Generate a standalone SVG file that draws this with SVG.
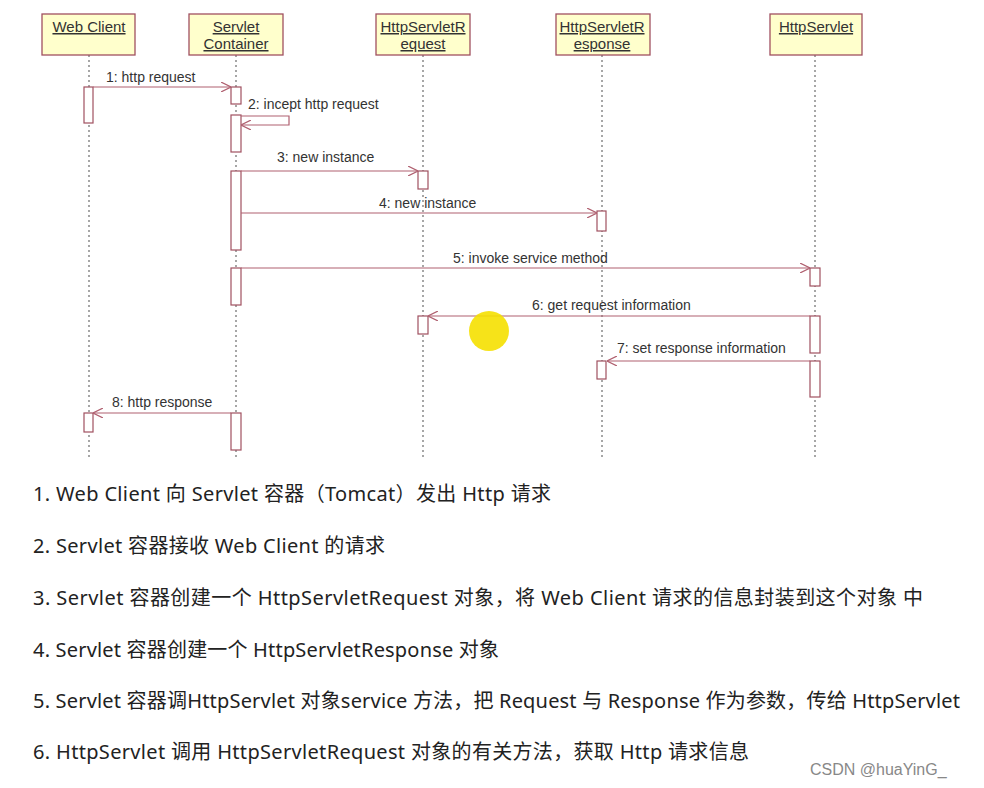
<svg xmlns="http://www.w3.org/2000/svg" width="984" height="788" viewBox="0 0 984 788">
<style>
.box{fill:#ffffcc;stroke:#a05060;stroke-width:1.3}
.act{fill:#fff;stroke:#a05060;stroke-width:1.2}
.life{stroke:#777;stroke-width:1.3;stroke-dasharray:2 3}
.msg{stroke:#b06070;stroke-width:1.2;fill:none}
.nm{font:15px "Liberation Sans",Arial,sans-serif;fill:#333;text-anchor:middle;text-decoration:underline}
.lb{font:14px "Liberation Sans",Arial,sans-serif;fill:#333}
.tx{font:20px "Noto Sans","Noto Sans CJK SC",sans-serif;fill:#222}
</style>
<defs><marker id="ah" viewBox="0 0 10 10" refX="10" refY="5" markerWidth="10" markerHeight="10" markerUnits="userSpaceOnUse" orient="auto"><path d="M0,0 L10,5 L0,10" fill="none" stroke="#b06070" stroke-width="1.2"/></marker></defs>
<rect width="984" height="788" fill="#fff"/>
<g id="lifelines">
<line class="life" x1="89" y1="55" x2="89" y2="460"/>
<line class="life" x1="236" y1="55" x2="236" y2="460"/>
<line class="life" x1="423" y1="55" x2="423" y2="460"/>
<line class="life" x1="602" y1="55" x2="602" y2="460"/>
<line class="life" x1="815" y1="55" x2="815" y2="460"/>
</g>
<g id="webclient"><rect class="box" x="42" y="14" width="93" height="41"/><text class="nm" x="89" y="32">Web Client</text>
<rect class="act" x="84" y="87" width="9" height="36"/><rect class="act" x="84" y="413" width="9" height="19"/></g>
<g id="container"><rect class="box" x="189" y="14" width="94" height="41"/><text class="nm" x="236" y="32">Servlet</text><text class="nm" x="236" y="49">Container</text>
<rect class="act" x="231" y="87" width="10" height="17"/><rect class="act" x="231" y="115" width="10" height="37"/><rect class="act" x="231" y="171" width="10" height="79"/><rect class="act" x="231" y="268" width="10" height="37"/><rect class="act" x="231" y="413" width="10" height="37"/></g>
<g id="request"><rect class="box" x="376" y="14" width="94" height="41"/><text class="nm" x="423" y="32">HttpServletR</text><text class="nm" x="423" y="49">equest</text>
<rect class="act" x="418" y="171" width="10" height="18"/><rect class="act" x="418" y="316" width="10" height="18"/></g>
<g id="response"><rect class="box" x="556" y="14" width="94" height="41"/><text class="nm" x="602" y="32">HttpServletR</text><text class="nm" x="602" y="49">esponse</text>
<rect class="act" x="597" y="211" width="9" height="20"/><rect class="act" x="597" y="361" width="9" height="18"/></g>
<g id="httpservlet"><rect class="box" x="770" y="14" width="92" height="41"/><text class="nm" x="816" y="32">HttpServlet</text>
<rect class="act" x="810" y="268" width="10" height="18"/><rect class="act" x="810" y="316" width="10" height="37"/><rect class="act" x="810" y="361" width="10" height="36"/></g>
<g id="connectors">
<line class="msg" x1="93" y1="87" x2="231" y2="87" marker-end="url(#ah)"/>
<polyline class="msg" points="241,116 289,116 289,125 241,125" marker-end="url(#ah)"/>
<line class="msg" x1="241" y1="171" x2="418" y2="171" marker-end="url(#ah)"/>
<line class="msg" x1="241" y1="213" x2="597" y2="213" marker-end="url(#ah)"/>
<line class="msg" x1="241" y1="268" x2="810" y2="268" marker-end="url(#ah)"/>
<line class="msg" x1="810" y1="316" x2="428" y2="316" marker-end="url(#ah)"/>
<line class="msg" x1="810" y1="361" x2="607" y2="361" marker-end="url(#ah)"/>
<line class="msg" x1="231" y1="413" x2="93" y2="413" marker-end="url(#ah)"/>
<text class="lb" x="106" y="82">1: http request</text>
<text class="lb" x="248" y="109">2: incept http request</text>
<text class="lb" x="277" y="162">3: new instance</text>
<text class="lb" x="379" y="208">4: new instance</text>
<text class="lb" x="453" y="263">5: invoke service method</text>
<text class="lb" x="532" y="310">6: get request information</text>
<text class="lb" x="617" y="353">7: set response information</text>
<text class="lb" x="112" y="407">8: http response</text>
</g>
<circle cx="489" cy="331" r="20" fill="#f5e000" opacity="0.9"/>
<g id="notes">
<text class="tx" x="33" y="501" textLength="518" lengthAdjust="spacing">1.  Web Client 向 Servlet 容器（Tomcat）发出 Http 请求</text>
<text class="tx" x="33" y="553" textLength="352" lengthAdjust="spacing">2. Servlet 容器接收 Web Client 的请求</text>
<text class="tx" x="33" y="605" textLength="890" lengthAdjust="spacing">3. Servlet 容器创建一个 HttpServletRequest 对象，将 Web Client 请求的信息封装到这个对象 中</text>
<text class="tx" x="33" y="657" textLength="466" lengthAdjust="spacing">4. Servlet 容器创建一个 HttpServletResponse 对象</text>
<text class="tx" x="33" y="708" textLength="927" lengthAdjust="spacing">5. Servlet 容器调HttpServlet 对象service 方法，把 Request 与 Response 作为参数，传给 HttpServlet</text>
<text class="tx" x="33" y="759" textLength="716" lengthAdjust="spacing">6. HttpServlet 调用 HttpServletRequest 对象的有关方法，获取 Http 请求信息</text>
<text x="810" y="775" style="font:16px 'Liberation Sans',sans-serif;fill:#888">CSDN @huaYinG_</text>
</g>
</svg>
